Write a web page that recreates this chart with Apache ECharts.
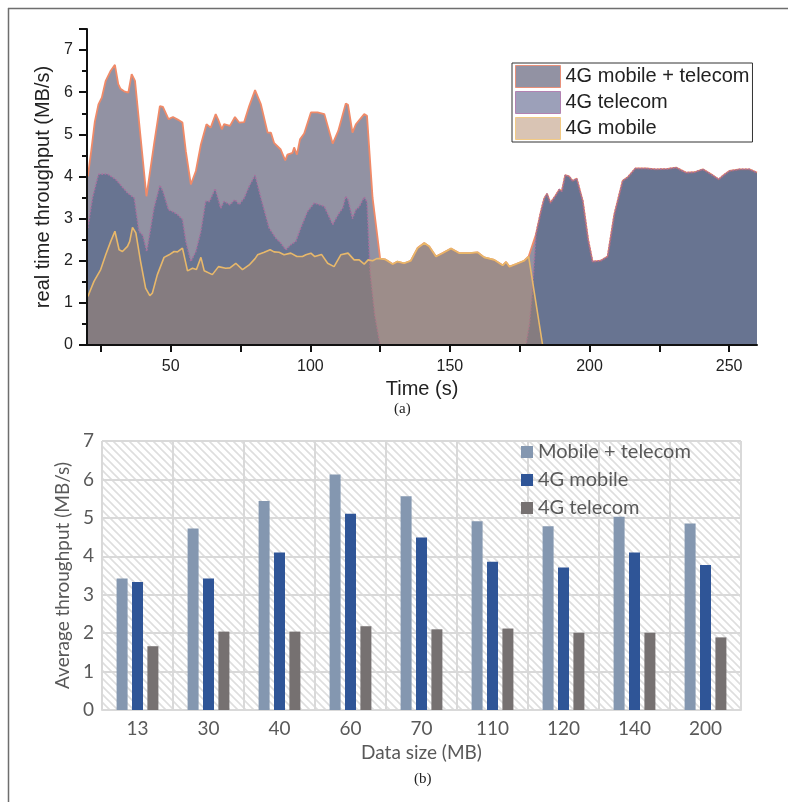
<!DOCTYPE html>
<html>
<head>
<meta charset="utf-8">
<script src="https://cdn.jsdelivr.net/npm/echarts@6/dist/echarts.min.js"></script>
<style>
html,body{margin:0;padding:0;background:#fff;}
#main{width:788px;height:802px;}
</style>
</head>
<body>
<div id="main"></div>
<script>
// ---------- (a) real-time throughput ----------
var combinedT = [20.3,21.5,22.8,24.1,25.3,26.7,28.5,30.0,31.2,32.0,33.3,34.8,36.0,37.2,39.2,41.3,41.9,44.0,46.1,47.2,49.2,50.8,52.5,54.2,55.4,57.2,59.0,60.8,62.8,64.3,66.1,67.0,68.3,69.1,71.2,73.0,74.5,76.3,78.1,80.2,82.3,84.7,85.9,87.0,89.4,91.0,91.8,93.6,94.2,95.2,96.3,97.8,100.2,102.6,105.0,108.0,110.0,112.7,113.5,115.1,116.3,119.3,120.3,122.3,125.0,126.9,129.5,131.2,133.6,136.0,138.4,140.8,142.6,145.0,147.4,150.4,153.3,156.9,159.9,162.3,165.9,168.9,170.1,171.3,173.7,176.6,178.2,178.9,180.8,182.6,183.8,184.8,186.0,187.7,189.2,190.1,191.3,192.7,194.0,195.4,197.6,199.5,201.1,204.0,206.5,208.9,211.9,213.7,216.4,220.3,223.8,228.0,231.0,234.6,237.6,240.6,243.6,246.3,248.0,250.1,253.7,257.3,260.0];
var combinedV = [4.00,4.60,5.30,5.71,5.87,6.27,6.51,6.65,6.19,6.08,6.02,5.99,6.43,6.27,4.93,3.53,3.53,4.76,5.67,5.65,5.36,5.41,5.35,5.28,4.60,3.81,4.13,4.76,5.24,5.16,5.48,5.35,5.12,5.24,5.20,5.41,5.28,5.29,5.67,6.05,5.71,5.04,5.04,4.80,4.64,4.38,4.52,4.56,4.69,4.52,4.88,5.02,5.52,5.52,5.48,4.78,5.08,5.73,5.70,5.04,5.24,5.48,5.44,3.49,2.05,2.03,1.92,1.98,1.94,2.00,2.30,2.42,2.34,2.10,2.18,2.29,2.18,2.18,2.20,2.08,2.02,1.89,1.97,1.86,1.92,2.00,2.10,2.07,2.62,3.17,3.48,3.59,3.37,3.53,3.69,3.65,4.03,4.00,3.89,3.95,3.41,2.50,1.98,2.00,2.10,3.10,3.90,3.98,4.19,4.19,4.17,4.18,4.21,4.09,4.10,4.17,4.05,3.93,4.03,4.13,4.17,4.17,4.09];

var telecomT = [20.3,22.0,24.1,27.3,30.3,34.5,36.9,38.6,40.0,41.4,44.0,46.1,47.2,49.2,50.8,52.4,54.2,55.4,57.2,59.0,60.8,62.5,63.9,65.9,67.9,69.1,71.2,73.0,74.5,76.3,78.1,80.2,82.3,85.2,87.6,89.4,91.2,93.0,94.8,96.6,99.0,101.4,103.2,105.0,108.0,110.0,111.6,112.7,113.5,115.1,116.3,117.5,119.3,120.3,121.4,123.1,125.0,177.2,178.5,179.6,180.2,180.8,182.6,183.8,184.8,186.0,187.7,189.2,190.1,191.3,192.7,194.0,195.4,197.6,199.5,201.1,204.0,206.5,208.9,211.9,213.7,216.4,220.3,223.8,228.0,231.0,234.6,237.6,240.6,243.6,246.3,248.0,250.1,253.7,257.3,260.0];
var telecomV = [2.78,3.50,4.05,4.06,3.93,3.61,3.49,2.70,2.60,2.22,3.25,3.79,3.65,3.21,3.16,3.10,2.98,2.46,1.98,2.22,2.70,3.41,3.41,3.71,3.25,3.41,3.33,3.45,3.33,3.49,3.77,4.03,3.49,2.78,2.54,2.42,2.26,2.38,2.46,2.78,3.17,3.37,3.33,3.29,2.86,3.10,3.25,3.53,3.45,3.00,3.21,3.28,3.51,3.40,1.75,0.71,0.00,0.00,0.50,1.35,1.98,2.62,3.17,3.48,3.59,3.37,3.53,3.69,3.65,4.03,4.00,3.89,3.95,3.41,2.50,1.98,2.00,2.10,3.10,3.90,3.98,4.19,4.19,4.17,4.18,4.21,4.09,4.10,4.17,4.05,3.93,4.03,4.13,4.17,4.17,4.09];

var mobileT = [20.3,22.5,24.9,26.7,28.5,30.0,31.5,32.7,34.5,35.3,36.3,37.5,39.2,41.0,42.5,43.4,45.2,47.6,49.4,51.2,52.4,54.2,56.0,57.8,59.2,60.8,62.0,64.9,67.1,69.7,71.2,73.3,75.7,78.1,80.2,81.1,83.5,85.6,87.0,88.8,90.6,93.0,95.2,97.2,98.4,100.2,101.6,104.0,106.2,108.5,110.9,113.5,115.7,117.5,119.3,120.7,122.3,123.8,125.0,126.9,129.5,131.2,133.6,136.0,138.4,140.8,142.6,145.0,147.4,150.4,153.3,156.9,159.9,162.3,165.9,168.9,170.1,171.3,173.7,176.6,178.2,178.9,183.2];
var mobileV = [1.15,1.51,1.79,2.14,2.46,2.70,2.26,2.22,2.34,2.46,2.79,2.66,1.98,1.35,1.17,1.23,1.67,2.08,2.14,2.22,2.21,2.30,1.76,1.82,1.79,2.08,1.76,1.67,1.86,1.82,1.83,1.94,1.79,1.90,2.05,2.14,2.20,2.26,2.21,2.20,2.14,2.18,2.10,2.10,2.14,2.18,2.10,2.15,1.94,1.86,2.14,2.18,2.02,2.02,1.92,2.02,2.00,2.05,2.05,2.03,1.92,1.98,1.94,2.00,2.30,2.42,2.34,2.10,2.18,2.29,2.18,2.18,2.20,2.08,2.02,1.89,1.97,1.86,1.92,2.00,2.10,2.07,0.00];

var xTicksA = [25,50,75,100,125,150,175,200,225,250];
var xLabelsA = [50,100,150,200,250];

// ---------- (b) average throughput ----------
var sizeCats = ['13','30','40','60','70','110','120','140','200'];
var mobTelV = [3.42,4.72,5.44,6.13,5.56,4.91,4.78,5.03,4.85];
var mob4gV  = [3.33,3.42,4.10,5.11,4.49,3.86,3.71,4.10,3.77];
var tel4gV  = [1.66,2.04,2.04,2.18,2.10,2.12,2.01,2.01,1.89];

function zip(t, v){ return t.map(function(x,i){ return [x, v[i]]; }); }

// hatch pattern
var pc = document.createElement('canvas');
pc.width = 8; pc.height = 8;
var g = pc.getContext('2d');
g.fillStyle = '#ffffff'; g.fillRect(0,0,8,8);
g.strokeStyle = '#dedede'; g.lineWidth = 1.6;
g.beginPath();
g.moveTo(-2,-2); g.lineTo(10,10);
g.moveTo(-2,6); g.lineTo(2,10);
g.moveTo(6,-2); g.lineTo(10,2);
g.stroke();

var chart = echarts.init(document.getElementById('main'), null, {renderer:'canvas'});
var SANS = 'Liberation Sans';
var CAL = 'Lato';
var GRAYTXT = '#595959';
var GL = '#d9d9d9';

chart.setOption({
  animation:false,
  backgroundColor:'#fff',
  grid:[
    {left:87, top:29, width:670, height:316, containLabel:false},
    {left:102, top:441, width:639, height:269, show:true, borderWidth:0, backgroundColor:{image:pc, repeat:'repeat'}}
  ],
  xAxis:[
    {type:'value', gridIndex:0, min:20, max:260, z:5,
     axisLine:{show:true, onZero:false, lineStyle:{color:'#111', width:2}},
     axisTick:{show:true, customValues:xTicksA, length:7, lineStyle:{color:'#111', width:2}},
     axisLabel:{customValues:xLabelsA, fontFamily:SANS, fontSize:16, color:'#222', margin:14},
     splitLine:{show:false},
     name:'Time (s)', nameLocation:'middle', nameGap:34,
     nameTextStyle:{fontFamily:SANS, fontSize:20, color:'#222'}},
    {type:'category', gridIndex:1, data:sizeCats, z:1,
     axisLine:{show:true, lineStyle:{color:GL, width:2}},
     axisTick:{show:false},
     axisLabel:{fontFamily:CAL, fontSize:19, color:GRAYTXT, margin:9},
     splitLine:{show:true, lineStyle:{color:GL, width:2}},
     name:'Data size (MB)', nameLocation:'middle', nameGap:33,
     nameTextStyle:{fontFamily:CAL, fontSize:19, color:GRAYTXT}}
  ],
  yAxis:[
    {type:'value', gridIndex:0, min:0, max:7.5, interval:1, z:5,
     axisLine:{show:true, lineStyle:{color:'#111', width:2}},
     axisTick:{show:true, length:8, lineStyle:{color:'#111', width:2}},
     minorTick:{show:true, splitNumber:2, length:5, lineStyle:{color:'#111', width:2}},
     axisLabel:{showMaxLabel:false, fontFamily:SANS, fontSize:16, color:'#222', margin:14},
     splitLine:{show:false},
     name:'real time throughput (MB/s)', nameLocation:'middle', nameGap:26,
     nameTextStyle:{fontFamily:SANS, fontSize:20, color:'#222'}},
    {type:'value', gridIndex:1, min:0, max:7, interval:1, z:1,
     axisLine:{show:false},
     axisTick:{show:false},
     axisLabel:{fontFamily:CAL, fontSize:19, color:GRAYTXT, margin:8},
     splitLine:{show:true, lineStyle:{color:GL, width:2}},
     name:'Average throughput (MB/s)', nameLocation:'middle', nameGap:28,
     nameTextStyle:{fontFamily:CAL, fontSize:19, color:GRAYTXT}}
  ],
  legend:[
    {orient:'vertical', left:512, top:63, icon:'rect', itemWidth:45, itemHeight:22, itemGap:3, itemTextGap:5,
     padding:[2,3,2,3], backgroundColor:'#fff', borderColor:'#333', borderWidth:1, selectedMode:false,
     textStyle:{fontFamily:SANS, fontSize:20, color:'#222'},
     data:[
       {name:'4G mobile + telecom', itemStyle:{color:'#9292a3', borderColor:'#e8907a', borderWidth:1}},
       {name:'4G telecom', itemStyle:{color:'#9ca0b9', borderColor:'#b282b2', borderWidth:1}},
       {name:'4G mobile', itemStyle:{color:'#d9c4b4', borderColor:'#f2ca84', borderWidth:1}}
     ]},
    {orient:'vertical', left:521, top:442, icon:'rect', itemWidth:12, itemHeight:12, itemGap:8, itemTextGap:7,
     padding:0, selectedMode:false,
     textStyle:{fontFamily:CAL, fontSize:20, color:GRAYTXT, lineHeight:20},
     data:[
       {name:'Mobile + telecom', itemStyle:{color:'#8497b0', borderWidth:0}},
       {name:'4G mobile', itemStyle:{color:'#2f5597', borderWidth:0}},
       {name:'4G telecom', itemStyle:{color:'#767171', borderWidth:0}}
     ]}
  ],
  graphic:[
    {type:'line', shape:{x1:8, y1:8.5, x2:788, y2:8.5}, style:{stroke:'#6e6e6e', lineWidth:1.5}, silent:true},
    {type:'line', shape:{x1:8.5, y1:8, x2:8.5, y2:802}, style:{stroke:'#6e6e6e', lineWidth:1.5}, silent:true},
    {type:'text', left:394, top:402, style:{text:'(a)', font:'15px "Liberation Serif"', fill:'#222'}},
    {type:'text', left:414, top:772, style:{text:'(b)', font:'15px "Liberation Serif"', fill:'#222'}}
  ],
  series:[
    {type:'line', name:'4G mobile + telecom', xAxisIndex:0, yAxisIndex:0, data:zip(combinedT, combinedV),
     symbol:'none', z:2, lineStyle:{color:'#f08a68', width:1.8},
     areaStyle:{color:'#9292a3', opacity:1}},
    {type:'line', name:'4G telecom', xAxisIndex:0, yAxisIndex:0, data:zip(telecomT, telecomV),
     symbol:'none', z:3, lineStyle:{color:'#a8709e', width:1.6, type:'dotted'},
     areaStyle:{color:'rgb(76,96,134)', opacity:0.6}},
    {type:'line', name:'4G mobile', xAxisIndex:0, yAxisIndex:0, data:zip(mobileT, mobileV),
     symbol:'none', z:4, lineStyle:{color:'#e8b86a', width:1.6},
     areaStyle:{color:'rgb(175,136,105)', opacity:0.42}},
    {type:'bar', name:'Mobile + telecom', xAxisIndex:1, yAxisIndex:1, data:mobTelV, barWidth:11, barGap:'40%',
     itemStyle:{color:'#8497b0'}},
    {type:'bar', name:'4G mobile', xAxisIndex:1, yAxisIndex:1, data:mob4gV, barWidth:11, barGap:'40%',
     itemStyle:{color:'#2f5597'}},
    {type:'bar', name:'4G telecom', xAxisIndex:1, yAxisIndex:1, data:tel4gV, barWidth:11, barGap:'40%',
     itemStyle:{color:'#767171'}}
  ]
});
</script>
</body>
</html>
